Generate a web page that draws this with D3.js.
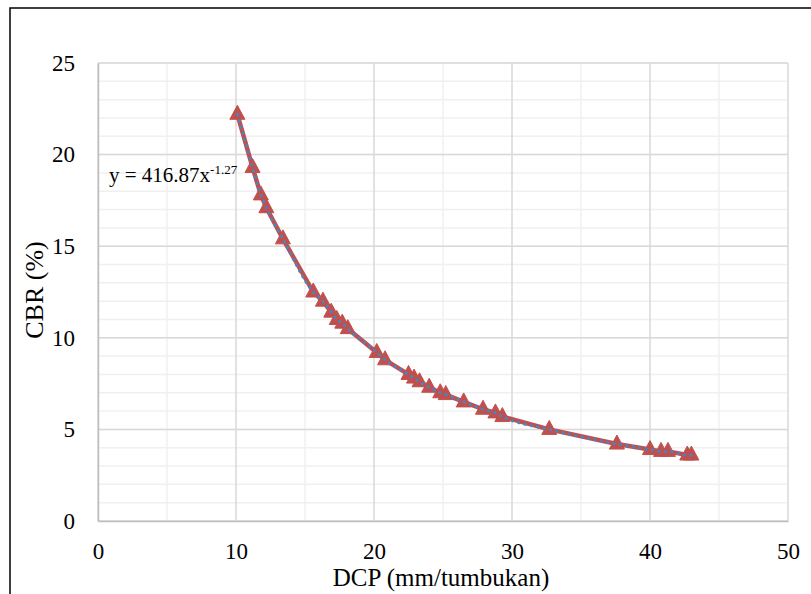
<!DOCTYPE html>
<html>
<head>
  <meta charset="utf-8">
  <script src="https://d3js.org/d3.v7.min.js"></script>
  <style>
  body { margin: 0; background: #fff; }
  </style>
</head>
<body>
<svg id="chart" width="811" height="594"></svg>
<script>
// DCP (mm/tumbukan) vs CBR (%)
var dcp = [10.1, 11.2, 11.8, 12.2, 13.4, 15.6, 16.3, 16.9, 17.3, 17.7, 18.1, 20.2, 20.8,
           22.5, 22.9, 23.3, 24.0, 24.8, 25.2, 26.5, 27.9, 28.8, 29.3, 32.7, 37.6,
           40.0, 40.8, 41.3, 42.7, 43.0];
var cbr = [22.2, 19.3, 17.8, 17.1, 15.4, 12.5, 12.0, 11.4, 11.0, 10.8, 10.5, 9.2, 8.8,
           8.0, 7.8, 7.6, 7.3, 7.0, 6.9, 6.5, 6.1, 5.9, 5.7, 5.0, 4.2,
           3.9, 3.8, 3.8, 3.6, 3.6];
var xTicks = [0, 10, 20, 30, 40, 50];
var yTicks = [0, 5, 10, 15, 20, 25];

var FONT = "Liberation Serif";
var data = dcp.map(function(d, i) { return {x: d, y: cbr[i]}; });

var svg = d3.select("#chart");
var margin = {left: 98, top: 63, right: 23, bottom: 73};
var width = 811 - margin.left - margin.right,
    height = 594 - margin.top - margin.bottom;

// outer frame
svg.append("rect")
  .attr("x", 10).attr("y", 8)
  .attr("width", 830).attr("height", 620)
  .attr("fill", "none").attr("stroke", "#000").attr("stroke-width", 1.5);

var g = svg.append("g").attr("transform", "translate(" + margin.left + "," + margin.top + ")");

var x = d3.scaleLinear().domain([0, 50]).range([0, width]);
var y = d3.scaleLinear().domain([0, 25]).range([height, 0]);

// minor gridlines
g.append("g").selectAll("line").data(d3.range(0, 26, 1))
  .enter().append("line")
  .attr("x1", 0).attr("x2", width)
  .attr("y1", function(d) { return y(d); }).attr("y2", function(d) { return y(d); })
  .attr("stroke", "#f0f0f0").attr("stroke-width", 1.5);
g.append("g").selectAll("line").data(d3.range(5, 50, 10))
  .enter().append("line")
  .attr("y1", 0).attr("y2", height)
  .attr("x1", function(d) { return x(d); }).attr("x2", function(d) { return x(d); })
  .attr("stroke", "#f0f0f0").attr("stroke-width", 1.5);

// major gridlines
g.append("g").selectAll("line").data(yTicks)
  .enter().append("line")
  .attr("x1", 0).attr("x2", width)
  .attr("y1", function(d) { return y(d); }).attr("y2", function(d) { return y(d); })
  .attr("stroke", "#d9d9d9").attr("stroke-width", 1.5);
g.append("g").selectAll("line").data(xTicks)
  .enter().append("line")
  .attr("y1", 0).attr("y2", height)
  .attr("x1", function(d) { return x(d); }).attr("x2", function(d) { return x(d); })
  .attr("stroke", "#d9d9d9").attr("stroke-width", 1.5);

// axes
var xAxis = g.append("g")
  .attr("transform", "translate(0," + height + ")")
  .call(d3.axisBottom(x).tickValues(xTicks).tickSize(0));
xAxis.select(".domain").attr("stroke", "#bfbfbf").attr("stroke-width", 1.5);
xAxis.selectAll("text").attr("y", 38).attr("dy", 0).attr("fill", "#000")
  .style("font-family", FONT).style("font-size", "23px");

var yAxis = g.append("g")
  .call(d3.axisLeft(y).tickValues(yTicks).tickSize(0).tickPadding(23));
yAxis.select(".domain").attr("stroke", "#bfbfbf").attr("stroke-width", 1.5);
yAxis.selectAll("text").attr("fill", "#000")
  .style("font-family", FONT).style("font-size", "23px");

// series line
g.append("path").datum(data)
  .attr("fill", "none").attr("stroke", "#C0504D").attr("stroke-width", 4.5)
  .attr("stroke-linejoin", "round")
  .attr("d", d3.line().x(function(d) { return x(d.x); }).y(function(d) { return y(d.y); }));

// triangle markers
g.append("g").selectAll("path").data(data)
  .enter().append("path")
  .attr("transform", function(d) { return "translate(" + x(d.x) + "," + y(d.y) + ")"; })
  .attr("d", "M0,-9 L7.5,5 L-7.5,5 Z")
  .attr("fill", "#C0504D").attr("stroke", "#C0504D").attr("stroke-width", 1);

// trendline (dotted)
g.append("path").datum(data)
  .attr("fill", "none").attr("stroke", "#4F81BD").attr("stroke-width", 3)
  .attr("stroke-linecap", "round").attr("stroke-dasharray", "0.5,6")
  .attr("d", d3.line().curve(d3.curveMonotoneX)
    .x(function(d) { return x(d.x); }).y(function(d) { return y(d.y); }));

// equation
var eq = svg.append("text").attr("x", 109).attr("y", 182)
  .attr("font-family", FONT).attr("font-size", 21);
eq.append("tspan").text("y = 416.87x");
eq.append("tspan").attr("dy", -8).attr("font-size", 13).text("-1.27");

// axis titles
svg.append("text")
  .attr("x", margin.left + width / 2 - 2).attr("y", 586)
  .attr("text-anchor", "middle").attr("font-family", FONT).attr("font-size", 25)
  .text("DCP (mm/tumbukan)");
svg.append("text")
  .attr("transform", "translate(43,290) rotate(-90)")
  .attr("text-anchor", "middle").attr("font-family", FONT).attr("font-size", 26)
  .text("CBR (%)");
</script>
</body>
</html>
